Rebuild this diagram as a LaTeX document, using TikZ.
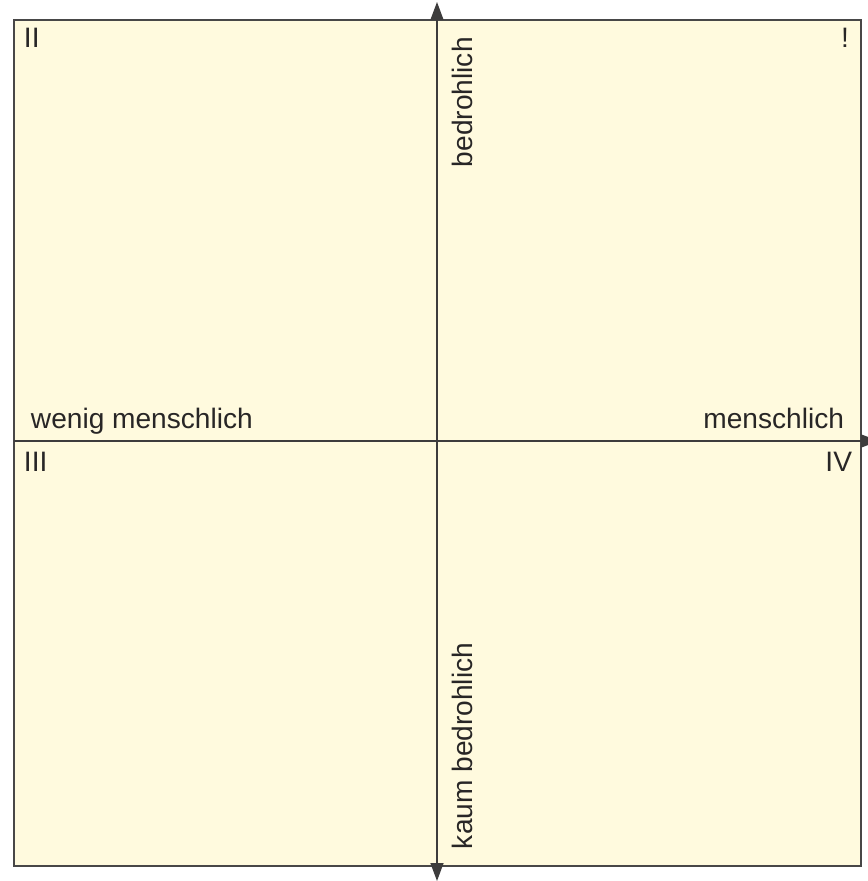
\documentclass[tikz,border=0pt]{standalone}
\usepackage{fontspec}
\setmainfont{Liberation Sans}
\usetikzlibrary{arrows.meta}
\definecolor{panelfill}{RGB}{255,250,222}
\definecolor{inkgray}{RGB}{40,38,38}

\begin{document}
\begin{tikzpicture}[x=0.02cm, y=-0.02cm, line width=1.1pt, font=\fontsize{16}{19}\selectfont, text=inkgray,
    >={Triangle[width=0.26cm, length=0.36cm]},
    axis/.style={draw=inkgray!90, fill=inkgray, line width=0.8pt},
    lbl/.style={inner sep=0pt}]
    \useasboundingbox (0,0) rectangle (867,881);

    % Field
    \draw[draw=inkgray!85, fill=panelfill] (14,20) rectangle (861,866);

    % Axes
    \coordinate (top) at (437,2);
    \coordinate (bottom) at (437,881);
    \coordinate (left) at (14,441);
    \coordinate (right) at (879,441);
    \draw[axis, <->] (bottom) -- (top);
    \draw[axis, ->] (left) -- (right);

    % Quadrants
    \node[lbl, anchor=base west] (quadII) at (23,48) {II};
    \node[lbl, anchor=base east] (quadI) at (850,48) {!};
    \node[lbl, anchor=base west] (quadIII) at (23,471) {III};
    \node[lbl, anchor=base east] (quadIV) at (853,471) {IV};

    % Axis labels
    \node[lbl, anchor=base west] (lesshuman) at (30,428) {wenig menschlich};
    \node[lbl, anchor=base east] (human) at (845,428) {menschlich};
    \node[lbl, rotate=90, anchor=base west] (threat) at (472,168) {bedrohlich};
    \node[lbl, rotate=90, anchor=base west] (nothreat) at (472,850) {kaum bedrohlich};
\end{tikzpicture}
\end{document}
